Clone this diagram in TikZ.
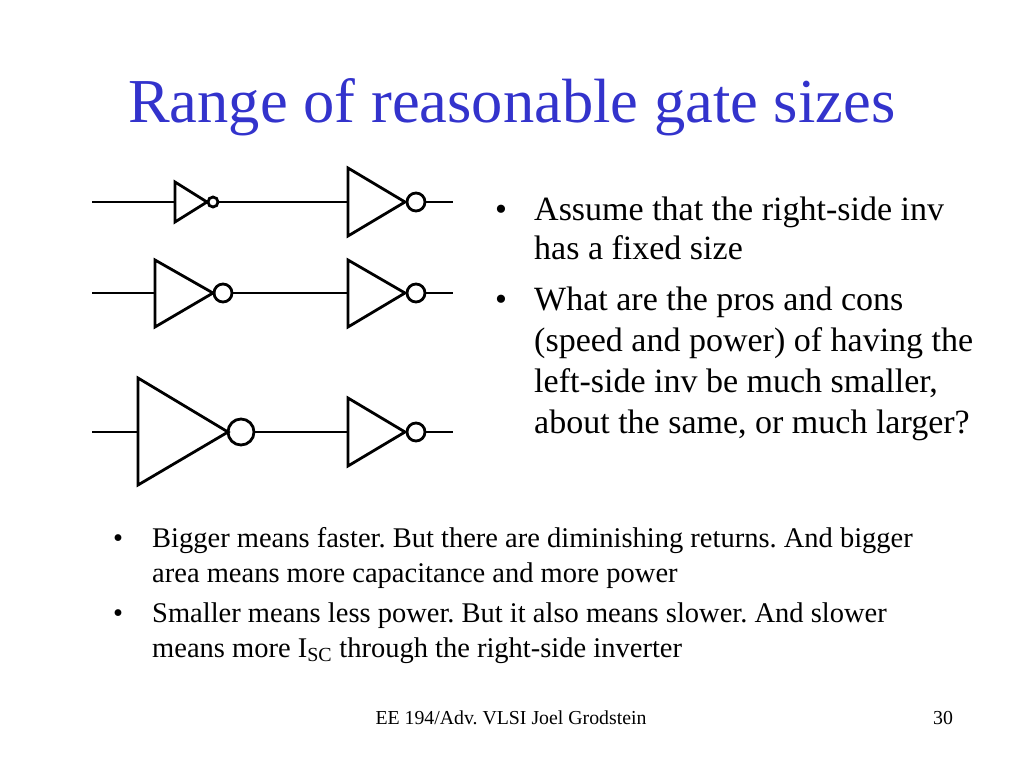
\documentclass[tikz,border=0pt]{standalone}
\usepackage{fontspec}
\setmainfont{Liberation Serif}
\begin{document}
\frenchspacing
\begin{tikzpicture}[x=1pt,y=-1pt,
  w/.style={line width=2.8pt},
  txt/.style={anchor=base west,inner sep=0pt,font=\fontsize{34}{41}\selectfont},
  sm/.style={anchor=base west,inner sep=0pt,font=\fontsize{28.5}{35}\selectfont}]
\useasboundingbox (0,0) rectangle (1024,768);
\node[anchor=base west,inner sep=0pt,text={rgb,255:red,51;green,51;blue,204},font=\fontsize{62.5}{62}\selectfont] (title) at (128,122) {Range of reasonable gate sizes};
% row 1
\draw[w] (92,202) -- (175,202);
\draw[w] (175,182) -- (207,202) -- (175,222) -- cycle;
\draw[w] (213,202) circle (5);
\draw[w] (218,202) -- (348,202);
\draw[w] (348,168) -- (405,202) -- (348,236) -- cycle;
\draw[w] (416,202) circle (9);
\draw[w] (425,202) -- (453,202);
% row 2
\draw[w] (92,293) -- (155,293);
\draw[w] (155,260) -- (213,293) -- (155,327) -- cycle;
\draw[w] (223,293) circle (9);
\draw[w] (232,293) -- (348,293);
\draw[w] (348,260) -- (405,293) -- (348,327) -- cycle;
\draw[w] (416,293) circle (9);
\draw[w] (425,293) -- (453,293);
% row 3
\draw[w] (92,432) -- (138,432);
\draw[w] (138,378) -- (228,432) -- (138,485) -- cycle;
\draw[w] (241,432) circle (13);
\draw[w] (254,432) -- (348,432);
\draw[w] (348,398) -- (405,432) -- (348,466) -- cycle;
\draw[w] (416,432) circle (9);
\draw[w] (425,432) -- (453,432);
% right bullets
\node[txt] (b1) at (495,220) {•};
\node[txt] (t1) at (534,220) {Assume that the right-side inv};
\node[txt] (t2) at (534,259) {has a fixed size};
\node[txt] (b2) at (495,310) {•};
\node[txt] (t3) at (534,310) {What are the pros and cons};
\node[txt] (t4) at (534,351) {(speed and power) of having the};
\node[txt] (t5) at (534,392) {left-side inv be much smaller,};
\node[txt] (t6) at (534,433) {about the same, or much larger?};
% bottom bullets
\node[sm] (c1) at (113,547) {•};
\node[sm] (s1) at (152,547) {Bigger means faster. But there are diminishing returns. And bigger};
\node[sm] (s2) at (152,582) {area means more capacitance and more power};
\node[sm] (c2) at (113,622) {•};
\node[sm] (s3) at (152,622) {Smaller means less power. But it also means slower. And slower};
\node[sm] (s4) at (152,657) {means more I\textsubscript{SC} through the right-side inverter};
% footer
\node[inner sep=0pt,anchor=base,font=\fontsize{19.8}{20}\selectfont] (foot) at (511,724) {EE 194/Adv. VLSI Joel Grodstein};
\node[inner sep=0pt,anchor=base,font=\fontsize{19.8}{20}\selectfont] (num) at (943,724) {30};
\end{tikzpicture}
\end{document}
